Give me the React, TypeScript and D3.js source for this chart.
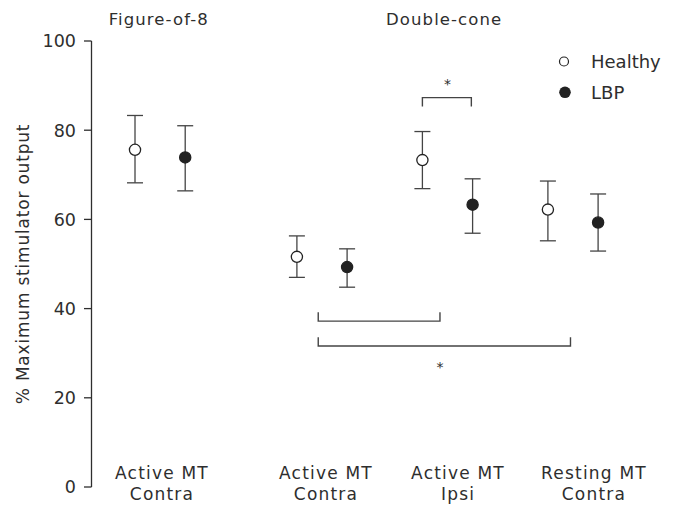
import React from "react";
import * as d3 from "d3";

const catLine1 = ["Active MT", "Active MT", "Active MT", "Resting MT"];
const catLine2 = ["Contra", "Contra", "Ipsi", "Contra"];
const groupPos = [0.71, 2, 3, 4];
const labelPos = [0.725, 2.032, 3.084, 4.167];
const coilTitles = ["Figure-of-8", "Double-cone"];
const coilTitlePos = [0.3, 2.51];
const legendLabels = ["Healthy", "LBP"];

const healthyMean = [75.6, 51.6, 73.3, 62.2];
const healthyUpper = [83.3, 56.3, 79.7, 68.6];
const healthyLower = [68.2, 47.0, 66.9, 55.2];
const lbpMean = [73.9, 49.3, 63.3, 59.3];
const lbpUpper = [81.0, 53.4, 69.1, 65.7];
const lbpLower = [66.4, 44.8, 56.9, 52.9];

const yTicks = [0, 20, 40, 60, 80, 100];

// significance brackets (x in group units, y in % units)
const brackets = [
  { x1: 2.8, x2: 3.19, y: 87.3, leg: -2.0 },
  { x1: 1.97, x2: 2.94, y: 37.2, leg: 2.0 },
  { x1: 1.97, x2: 3.98, y: 31.6, leg: 2.0 },
];
const stars = [
  { x: 3.0, y: 91.4 },
  { x: 2.94, y: 28.0 },
];

const W = 680;
const H = 506;
const FONT = "'DejaVu Sans', sans-serif";
const INK = "#2e2e2e";

export default function App() {
  const x = d3.scaleLinear().domain([0, 4]).range([71, 573]);
  const y = d3.scaleLinear().domain([0, 100]).range([487, 41]);
  const off = 0.2;
  const cap = 8;

  const series = [
    { mean: healthyMean, up: healthyUpper, lo: healthyLower, dx: -off, fill: "#fff" },
    { mean: lbpMean, up: lbpUpper, lo: lbpLower, dx: off, fill: "#222" },
  ];

  return (
    <svg
      width={W}
      height={H}
      style={{ position: "absolute", left: 0, top: 0, background: "#fff" }}
      fontFamily={FONT}
    >
      {/* y axis */}
      <line x1={91.5} x2={91.5} y1={y(100)} y2={y(0)} stroke={INK} strokeWidth={1.3} />
      {yTicks.map((t) => (
        <g key={t}>
          <line x1={84} x2={91.5} y1={y(t)} y2={y(t)} stroke={INK} strokeWidth={1.3} />
          <text x={76} y={y(t)} dy="0.36em" textAnchor="end" fontSize={17.5} fill={INK}>
            {t}
          </text>
        </g>
      ))}
      <text
        transform={`translate(29, ${(y(0) + y(100)) / 2}) rotate(-90)`}
        textAnchor="middle"
        fontSize={17}
        letterSpacing={0.8}
        fill={INK}
      >
        % Maximum stimulator output
      </text>

      {/* coil titles */}
      {coilTitles.map((t, i) => (
        <text key={t} x={x(coilTitlePos[i])} y={25} fontSize={16.5} letterSpacing={1.1} fill={INK}>
          {t}
        </text>
      ))}

      {/* category labels */}
      {catLine1.map((t, i) => (
        <g key={i}>
          <text x={x(labelPos[i])} y={479} textAnchor="middle" fontSize={17} letterSpacing={1.2} fill={INK}>
            {t}
          </text>
          <text x={x(labelPos[i])} y={500} textAnchor="middle" fontSize={17} letterSpacing={1.2} fill={INK}>
            {catLine2[i]}
          </text>
        </g>
      ))}

      {/* error bars and points */}
      {series.map((s, si) =>
        groupPos.map((g, i) => {
          const cx = x(g + s.dx);
          return (
            <g key={`${si}-${i}`}>
              <line x1={cx} x2={cx} y1={y(s.up[i])} y2={y(s.lo[i])} stroke="#444" strokeWidth={1.3} />
              <line x1={cx - cap} x2={cx + cap} y1={y(s.up[i])} y2={y(s.up[i])} stroke="#444" strokeWidth={1.3} />
              <line x1={cx - cap} x2={cx + cap} y1={y(s.lo[i])} y2={y(s.lo[i])} stroke="#444" strokeWidth={1.3} />
              <circle cx={cx} cy={y(s.mean[i])} r={5.6} fill={s.fill} stroke="#222" strokeWidth={1.3} />
            </g>
          );
        })
      )}

      {/* brackets */}
      {brackets.map((b, i) => (
        <path
          key={i}
          d={`M${x(b.x1)},${y(b.y + b.leg)}V${y(b.y)}H${x(b.x2)}V${y(b.y + b.leg)}`}
          fill="none"
          stroke="#444"
          strokeWidth={1.4}
        />
      ))}
      {stars.map((s, i) => (
        <text key={i} x={x(s.x)} y={y(s.y)} dy="0.7em" textAnchor="middle" fontSize={14} fill={INK}>
          *
        </text>
      ))}

      {/* legend */}
      <circle cx={564} cy={61.5} r={4.5} fill="#fff" stroke="#222" strokeWidth={1.2} />
      <text x={591} y={61.5} dy="0.36em" fontSize={18} fill={INK}>
        {legendLabels[0]}
      </text>
      <circle cx={565} cy={92.3} r={5.8} fill="#222" />
      <text x={591} y={92.3} dy="0.36em" fontSize={18} fill={INK}>
        {legendLabels[1]}
      </text>
    </svg>
  );
}
